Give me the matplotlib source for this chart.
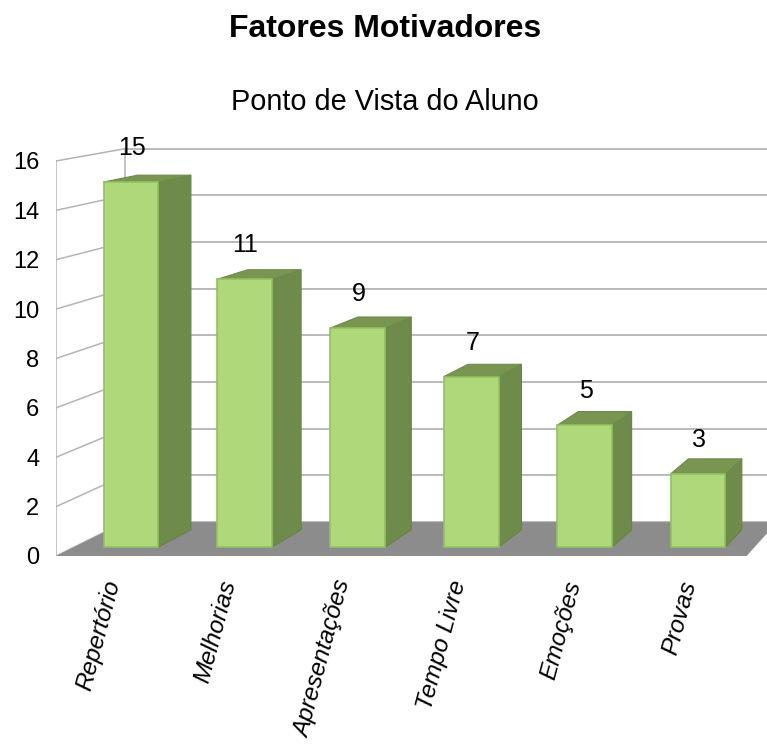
import matplotlib.pyplot as plt
from matplotlib.patches import Polygon

plt.rcParams['font.family'] = ['Liberation Sans', 'DejaVu Sans']

categorias = ['Repertório', 'Melhorias', 'Apresentações', 'Tempo Livre', 'Emoções', 'Provas']
valores = [15, 11, 9, 7, 5, 3]
yticks = [0, 2, 4, 6, 8, 10, 12, 14, 16]

# perspective: vanishing point and depths (bar front plane = z 0)
VX, VY = 10.31, 24.95
Z_FRENTE = -0.0148
Z_FUNDO = 0.041
Z_BARRA = 0.0284
LARG = 0.485


def proj(x, y, z):
    return x + z * (VX - x), y + z * (VY - y)


W, H = 767, 747
# pixel mapping of the bar front plane
PX0, PXU = 131, 113.4
PY0, PYU = 547, 24.33

fig = plt.figure(figsize=(W / 100, H / 100), dpi=100)

x_left = proj(-0.5, 0, Z_FRENTE)[0]
y_bot = proj(0, 0, Z_FRENTE)[1]
left_px = PX0 + PXU * x_left
bottom_py = PY0 - PYU * y_bot
right_px, top_py = W, 125
ax = fig.add_axes([left_px / W, 1 - bottom_py / H,
                   (right_px - left_px) / W, (bottom_py - top_py) / H])
ax.set_xlim(x_left, (right_px - PX0) / PXU)
ax.set_ylim(y_bot, (PY0 - top_py) / PYU)
for s in ax.spines.values():
    s.set_visible(False)

grid_c = '#B4B4B4'
# back wall gridlines + left wall lines
for v in yticks:
    bx, by = proj(-0.5, v, Z_FUNDO)
    fx, fy = proj(-0.5, v, Z_FRENTE)
    ax.plot([bx, 10], [by, by], color=grid_c, lw=1.3, zorder=1)
    ax.plot([fx, bx], [fy, by], color=grid_c, lw=1.1, zorder=1)
for z in (Z_FRENTE, Z_FUNDO):
    x0, y0 = proj(-0.5, 0, z)
    x1, y1 = proj(-0.5, yticks[-1], z)
    ax.plot([x0, x1], [y0, y1], color=grid_c, lw=1.1, zorder=1)

# floor
piso = [proj(-0.5, 0, Z_FRENTE), proj(5.5, 0, Z_FRENTE),
        proj(5.5, 0, Z_FUNDO), proj(-0.5, 0, Z_FUNDO)]
ax.add_patch(Polygon(piso, closed=True, facecolor='#8C8C8C', edgecolor='none', zorder=2))

# bars
for i, v in enumerate(valores):
    xr = i + LARG / 2
    xl = i - LARG / 2
    lado = [proj(xr, 0, 0), proj(xr, v, 0), proj(xr, v, Z_BARRA), proj(xr, 0, Z_BARRA)]
    topo = [proj(xl, v, 0), proj(xr, v, 0), proj(xr, v, Z_BARRA), proj(xl, v, Z_BARRA)]
    ax.add_patch(Polygon(lado, closed=True, facecolor='#6E8B4B', edgecolor='#66834A',
                         lw=0.8, zorder=3))
    ax.add_patch(Polygon(topo, closed=True, facecolor='#789650', edgecolor='#6E8B4B',
                         lw=0.8, zorder=3))
ax.bar(range(len(valores)), valores, width=LARG, color='#AED87A',
       edgecolor='#93C061', linewidth=1.2, zorder=4)

for i, v in enumerate(valores):
    ax.annotate(str(v), (i, v), xytext=(1, 27), textcoords='offset pixels',
                ha='center', va='baseline', fontsize=18, zorder=5)

ax.set_yticks([proj(-0.5, v, Z_FRENTE)[1] for v in yticks], [str(v) for v in yticks])
ax.tick_params(axis='y', length=0, pad=12, labelsize=17)
ax.set_xticks([proj(i, 0, Z_FRENTE)[0] for i in range(len(categorias))], categorias,
              rotation=75, ha='right', va='center', rotation_mode='anchor',
              fontsize=17.5, style='italic')
ax.tick_params(axis='x', length=0, pad=18)

fig.text(0.502, 1 - 37 / H, 'Fatores Motivadores', ha='center', va='baseline',
         fontsize=23, fontweight='bold')
fig.text(0.502, 1 - 110 / H, 'Ponto de Vista do Aluno', ha='center', va='baseline',
         fontsize=20.8)

fig.savefig('out.png', dpi=100)
